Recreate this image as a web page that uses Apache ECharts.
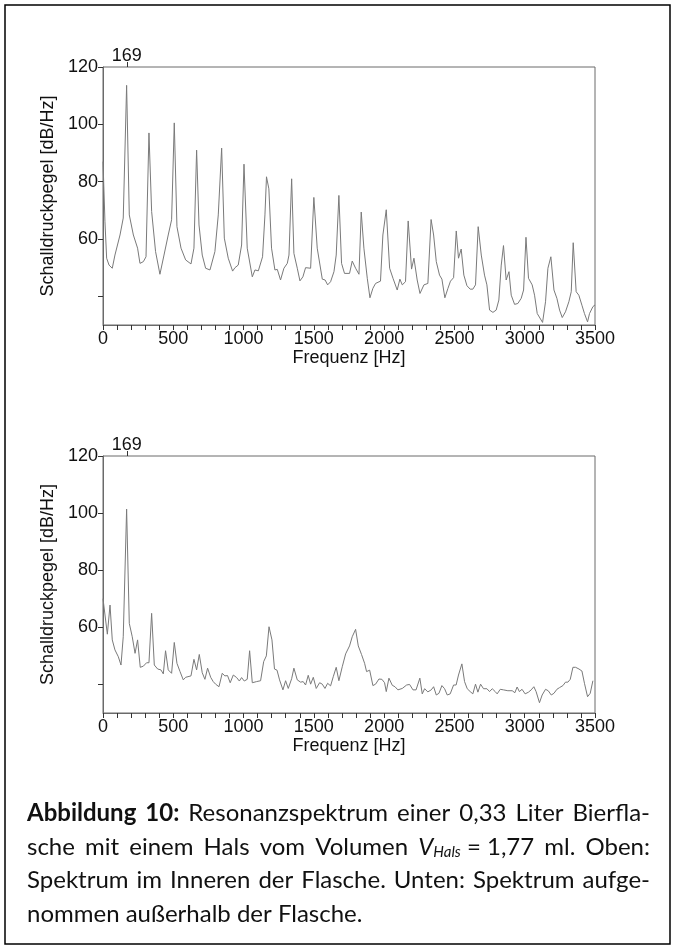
<!DOCTYPE html>
<html>
<head>
<meta charset="utf-8">
<script src="https://cdn.jsdelivr.net/npm/echarts@6/dist/echarts.min.js"></script>
<style>
html,body{margin:0;padding:0;background:#fff;}
#chart{width:675px;height:949px;}
</style>
</head>
<body>
<div id="chart"></div>
<script>
// ---- Data ----
const freqTop = [0,14,26,43,66,85,121,144,168,187,216,246,263,287,306,327,346,374,405,434,464,488,507,526,555,588,626,647,666,683,706,730,761,796,820,844,863,891,922,939,962,986,1003,1026,1062,1081,1105,1135,1152,1163,1180,1199,1223,1240,1263,1287,1311,1323,1342,1358,1382,1401,1422,1441,1477,1500,1524,1560,1580,1598,1619,1643,1659,1678,1697,1718,1754,1773,1797,1821,1837,1856,1880,1899,1920,1939,1974,1991,2015,2039,2063,2093,2112,2129,2152,2171,2195,2212,2235,2255,2283,2311,2334,2352,2371,2394,2411,2432,2454,2472,2494,2513,2529,2548,2567,2589,2612,2631,2650,2669,2691,2714,2731,2750,2774,2797,2816,2833,2849,2868,2888,2904,2928,2951,2975,2992,3009,3027,3053,3070,3089,3127,3148,3165,3186,3208,3229,3248,3267,3290,3314,3331,3345,3366,3385,3407,3425,3447,3461,3485,3500];
const levelTop = [87,66,53.3,50.9,49.8,54.4,61.4,67.3,113.6,68.4,61.4,56.8,51.5,52.1,53.8,97,69.6,55.6,47.7,54.4,61.4,66.7,100.5,64.3,56.8,52.7,51.3,56.8,91,64.9,54.4,49.8,49.2,55.6,68.4,91.7,60.3,53.3,48.8,50,50.9,57.9,86.1,56.8,46.8,49.2,48.9,53.8,68.4,81.7,77.5,56.8,49.2,49.4,45.7,49.8,51.5,54.4,81,55,49.8,45.4,46.8,50,49.8,74.5,56.8,46,45.7,44,45.1,48.6,54.4,75.2,51.5,48,48,52.3,49.8,47.7,69.4,56.8,46.3,39.5,42.8,44.5,45.3,61.4,70.2,49.8,46.3,42.2,46,44,45.1,66.3,49.5,53.3,45.7,41,44,44.5,66.8,61.4,52.1,47.4,46,39.5,42.8,45.3,46.5,62.8,53.3,56.5,47.4,43.7,42.5,42.5,44,64.3,54.4,47.4,44,35.2,34.4,35.2,38.7,50.9,57.7,45.7,48.6,40.4,37.2,37.5,39.3,42.2,60.6,46.3,44,40.4,34,30.9,38.1,49.8,53.8,42.2,39.3,35.2,32.6,34.6,38.1,41.6,58.7,41.6,40.4,36.9,34,31.1,34,36.4,37];

const freqBottom = [0,31,50,66,85,109,128,144,168,187,208,228,246,265,287,310,327,346,365,389,412,429,445,464,488,507,526,548,571,588,626,647,666,685,706,725,744,766,784,801,825,848,867,886,905,927,951,970,986,1005,1026,1043,1062,1093,1121,1143,1162,1181,1202,1220,1238,1256,1280,1299,1318,1342,1358,1382,1406,1424,1441,1460,1477,1496,1517,1541,1560,1579,1598,1619,1638,1659,1678,1702,1726,1754,1773,1797,1816,1839,1861,1875,1897,1920,1939,1963,1984,2003,2015,2034,2058,2077,2098,2129,2160,2181,2205,2227,2254,2271,2288,2311,2335,2352,2371,2390,2411,2430,2449,2470,2494,2512,2529,2553,2572,2591,2612,2631,2650,2667,2686,2707,2731,2750,2769,2790,2804,2826,2849,2880,2911,2930,2946,2962,2981,3003,3027,3046,3065,3081,3105,3124,3148,3167,3189,3208,3229,3248,3272,3290,3307,3324,3343,3362,3386,3407,3425,3447,3466,3485];
const levelBottom = [70,57.6,67.8,55.6,52.1,49.7,46.8,56.7,101.4,61.4,56.7,50.9,55.6,46,46.4,47.6,47.6,64.9,46.8,45.4,45.1,43.7,51.8,45.1,43.9,54.7,47.4,44.5,41.6,42.5,43,48.8,45.1,50.5,44.1,41.8,45.7,42.5,41,40.1,39.2,43.9,43,43.1,40.6,43.3,42.4,41.2,42.4,41.2,41.8,51.8,40.6,41,41.3,48,50,60.2,55.6,45.4,45,41.6,38.1,41.3,38.6,42,45.7,41.6,40.8,41,39.8,43.2,40.1,42.5,38.6,40.6,40.1,38.6,40.4,39.5,42.7,46,41.3,46.2,50.7,53.5,56.7,59.3,53.5,50.5,47.4,44.5,45,39.6,40.1,41.9,41.8,40.6,37.5,42.2,39.7,39.2,38.1,38.6,39.8,40,38.1,38.1,42.2,36.7,38.5,37.4,38.1,39.2,36.3,36.9,39.6,38.5,36.3,36.7,39.8,39.8,43.3,47.2,41,38.5,37.5,36.7,40.1,37.3,40.1,38.5,38.5,37.5,38.5,37.5,36.7,38.3,38.1,37.8,37.8,37.1,39.1,37.5,38.3,36.7,37.3,38.1,39.2,37.5,33.6,36.3,38.3,37.8,36.3,36.9,38.3,38.9,39.6,40.8,40.8,41.8,46,46,45.4,44.7,40.4,35.7,36.9,41.3];

const xTickLabels = [0,500,1000,1500,2000,2500,3000,3500];
const yTickValues = [40,60,80,100,120];
const yLabelValues = [60,80,100,120];
const markedFreq = [169];

const xName = 'Frequenz [Hz]';
const yName = 'Schalldruckpegel [dB/Hz]';

// ---- Chart ----
const chart = echarts.init(document.getElementById('chart'), null, {renderer:'canvas'});
const AX = '#6a6a6a';
const FONT = 'Liberation Sans';
const FS = 18;
const plain = v => String(v);

function pairs(xs, ys){ return xs.map((x,i)=>[x, ys[i]]); }

const grids = [
  {left:103, top:67, width:492, height:258},
  {left:103, top:456, width:492, height:257}
];

const xAxes = [], yAxes = [], series = [];
grids.forEach((g, i) => {
  xAxes.push({
    type:'value', gridIndex:i, position:'bottom', min:0, max:3500, interval:500,
    axisLine:{show:true, onZero:false, lineStyle:{color:AX, width:1}},
    axisTick:{show:true, length:5, lineStyle:{color:'#333'}},
    minorTick:{show:true, splitNumber:5, length:5, lineStyle:{color:'#333'}},
    splitLine:{show:false}, minorSplitLine:{show:false},
    axisLabel:{fontSize:FS, color:'#111', fontFamily:FONT, margin:5,
      customValues: xTickLabels, formatter: plain},
    name:xName, nameLocation:'middle', nameGap:19,
    nameTextStyle:{fontSize:FS, color:'#111', fontFamily:FONT}
  });
  xAxes.push({
    type:'value', gridIndex:i, position:'top', min:0, max:3500,
    axisLine:{show:false},
    axisTick:{show:true, length:5, customValues:markedFreq, lineStyle:{color:'#333'}},
    axisLabel:{show:true, customValues:markedFreq, formatter: plain, fontSize:FS, color:'#111', fontFamily:FONT, margin:2},
    splitLine:{show:false}
  });
  yAxes.push({
    type:'value', gridIndex:i, min:30, max:120,
    axisLine:{show:true, onZero:false, lineStyle:{color:AX, width:1}},
    axisTick:{show:true, length:5, customValues:yTickValues, lineStyle:{color:'#333'}},
    axisLabel:{fontSize:FS, color:'#111', fontFamily:FONT, margin:5, customValues:yLabelValues, formatter: plain},
    splitLine:{show:false},
    name:yName, nameLocation:'middle', nameGap:46,
    nameTextStyle:{fontSize:FS, color:'#111', fontFamily:FONT}
  });
});

series.push({
  type:'line', xAxisIndex:0, yAxisIndex:0, data:pairs(freqTop, levelTop),
  showSymbol:false, symbol:'none', lineStyle:{color:'#7a7a7a', width:1}, animation:false, silent:true
});
series.push({
  type:'line', xAxisIndex:2, yAxisIndex:1, data:pairs(freqBottom, levelBottom),
  showSymbol:false, symbol:'none', lineStyle:{color:'#7a7a7a', width:1}, animation:false, silent:true
});

// ---- Caption (justified like the original) ----
const CAP_FS = 24;
const CAP_FAMILY = 'Lato';
const capLeft = 27, capRight = 650;
const capLines = [
  {y:813, justify:true, tokens:[
    [{t:'Abbildung', w:'bold'}], [{t:'10:', w:'bold'}], [{t:'Resonanzspektrum'}], [{t:'einer'}],
    [{t:'0,33'}], [{t:'Liter'}], [{t:'Bierfla-'}]]},
  {y:847, justify:true, tokens:[
    [{t:'sche'}],[{t:'mit'}],[{t:'einem'}],[{t:'Hals'}],[{t:'vom'}],[{t:'Volumen'}],
    [{t:'V', s:'italic'},{t:'Hals', s:'italic', fs:15, dy:5},{t:' = 1,77'}],
    [{t:'ml.'}],[{t:'Oben:'}]]},
  {y:880, justify:true, tokens:[
    [{t:'Spektrum'}],[{t:'im'}],[{t:'Inneren'}],[{t:'der'}],[{t:'Flasche.'}],[{t:'Unten:'}],[{t:'Spektrum'}],[{t:'aufge-'}]]},
  {y:914, justify:false, tokens:[
    [{t:'nommen'}],[{t:'außerhalb'}],[{t:'der'}],[{t:'Flasche.'}]]}
];
const mctx = document.createElement('canvas').getContext('2d');
function fontStr(p){ return (p.s||'normal') + ' ' + (p.w||'normal') + ' ' + (p.fs||CAP_FS) + 'px ' + CAP_FAMILY; }
function measure(p){ mctx.font = fontStr(p); return mctx.measureText(p.t).width; }
const graphics = [];
capLines.forEach(line => {
  const widths = line.tokens.map(tok => tok.reduce((s,p)=>s+measure(p),0));
  const total = widths.reduce((a,b)=>a+b,0);
  const n = line.tokens.length - 1;
  const gap = line.justify ? (capRight - capLeft - total)/n : measure({t:' '});
  let x = capLeft;
  line.tokens.forEach((tok, k) => {
    let px = x;
    tok.forEach(p => {
      graphics.push({type:'text', x:px, y:line.y + (p.dy||0), silent:true,
        style:{text:p.t, x:0, y:0, fill:'#111', font:fontStr(p), verticalAlign:'middle', align:'left'}});
      px += measure(p);
    });
    x += widths[k] + gap;
  });
});
graphics.push({type:'rect', silent:true, shape:{x:5, y:5, width:665, height:939},
  style:{fill:null, stroke:'#000', lineWidth:1.5}});

chart.setOption({
  animation:false,
  backgroundColor:'#fff',
  grid: grids.map(g => Object.assign({show:true, borderColor:AX, borderWidth:1, backgroundColor:'transparent'}, g)),
  xAxis:xAxes, yAxis:yAxes, series:series,
  graphic:{elements:graphics}
});
</script>
</body>
</html>
